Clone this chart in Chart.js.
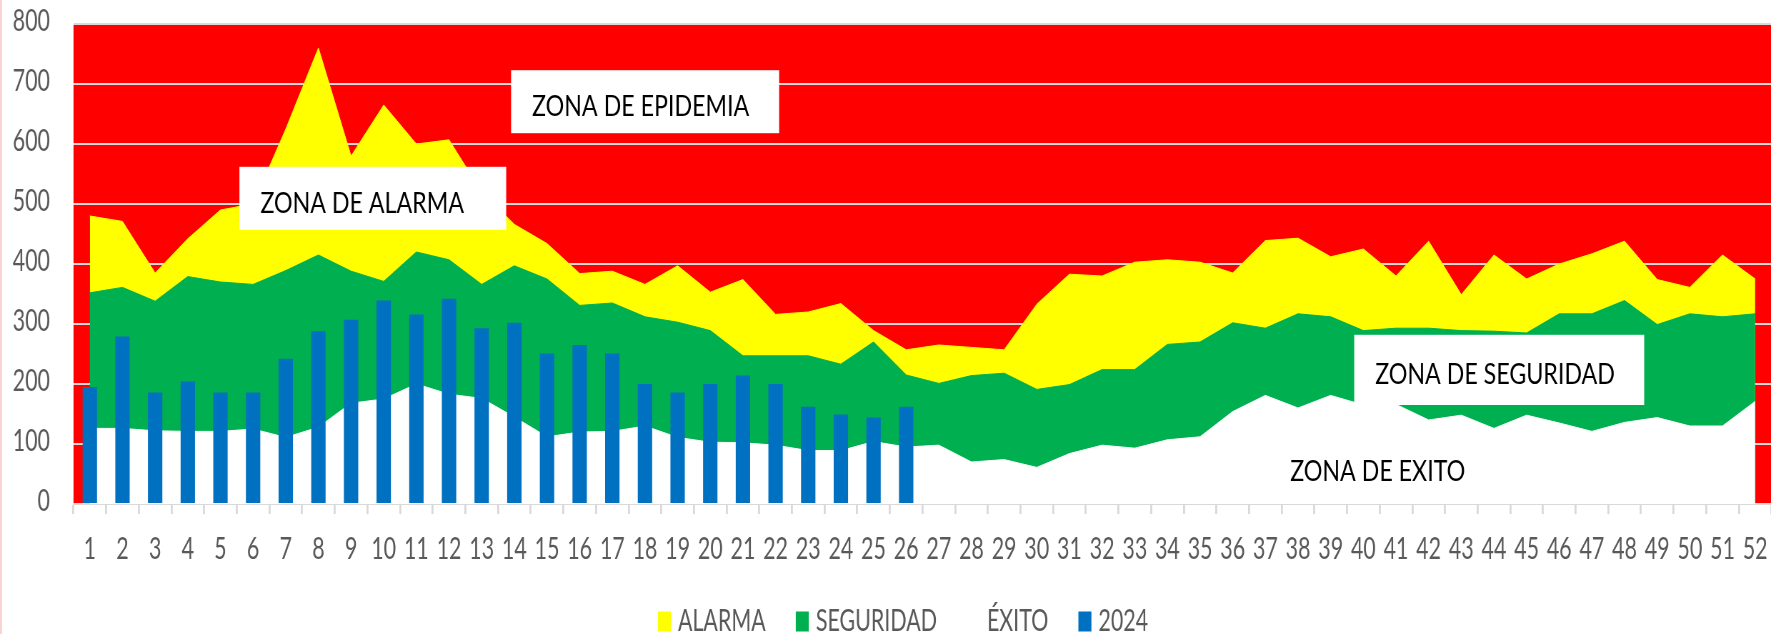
<!DOCTYPE html>
<html>
<head>
<meta charset="utf-8">
<title>Canal endémico</title>
<script src="https://cdn.jsdelivr.net/npm/chart.js@4.4.1/dist/chart.umd.min.js"></script>
<style>
  html, body { margin: 0; padding: 0; background: #fff; overflow: hidden; }
  #wrap { position: relative; width: 1806px; height: 634px; }
  #wrap:before { content: ''; position: absolute; left: 0; top: 0; bottom: 0; width: 2px; background: #fbd3d3; z-index: 2; }
</style>
</head>
<body>
<!-- the canvas is wider than it is shown, so the text comes out narrow like the original -->
<div id="wrap"><canvas id="myChart" width="2528" height="634" style="width:1806px;height:634px"></canvas></div>
<script>
// semanas epidemiologicas
let semanas = ['1','2','3','4','5','6','7','8','9','10','11','12','13','14','15','16','17','18','19','20',
  '21','22','23','24','25','26','27','28','29','30','31','32','33','34','35','36','37','38','39','40',
  '41','42','43','44','45','46','47','48','49','50','51','52'];

// limite superior de cada zona
let alarma = [480,471,385,442,490,500,625,760,580,665,600,607,520,466,434,384,388,366,397,353,
  374,316,320,334,289,257,265,261,257,333,383,380,403,407,403,385,439,443,412,425,
  380,438,349,415,375,400,417,438,374,361,415,375];
let seguridad = [352,361,338,379,370,366,389,415,388,371,420,407,366,397,375,331,335,312,303,289,
  247,247,247,233,270,215,201,214,218,191,199,224,224,266,270,302,293,317,312,289,
  293,293,289,288,285,317,317,339,299,317,312,317];
let exito = [126,126,122,121,121,125,111,128,168,175,200,183,176,145,112,120,121,130,111,103,
  102,98,89,89,104,95,98,70,74,61,84,98,93,107,112,154,181,160,181,165,
  166,140,148,126,148,135,121,136,144,130,130,171];

// casos 2024
let casos2024 = [195,279,186,204,186,186,242,288,307,339,316,342,293,302,251,265,251,200,186,200,
  214,200,162,149,144,162];

let textosZona = ['ZONA DE EPIDEMIA','ZONA DE ALARMA','ZONA DE SEGURIDAD','ZONA DE EXITO'];

const fuente = "Lato, 'Liberation Sans', sans-serif";
const k = 2528 / 1806; // canvas px per screen px, horizontally

// cajas de texto, en unidades de los ejes (indice de semana, casos)
const cajas = [
  {x0: 12.90, x1: 21.11, y0: 618, y1: 723},
  {x0: 4.58, x1: 12.75, y0: 457, y1: 562},
  {x0: 38.72, x1: 47.60, y0: 165, y1: 282},
  {x0: 36.76, y: 54}
];

const fondoRojo = {
  id: 'fondoRojo',
  beforeDraw(chart) {
    const a = chart.chartArea, ctx = chart.ctx;
    ctx.save();
    ctx.fillStyle = '#ff0000';
    ctx.fillRect(a.left, a.top, a.right - a.left, a.bottom - a.top);
    ctx.restore();
  }
};

function texto(ctx, s, x, y) {
  // the zone captions are a bit wider than the axis text
  ctx.save();
  ctx.translate(x, y);
  ctx.scale(1.12, 1);
  ctx.fillText(s, 0, 0);
  ctx.restore();
}

const rotulos = {
  id: 'rotulos',
  afterDatasetsDraw(chart) {
    const ctx = chart.ctx, sx = chart.scales.x, sy = chart.scales.y;
    ctx.save();
    ctx.font = '29px ' + fuente;
    ctx.textBaseline = 'middle';
    ctx.textAlign = 'left';
    cajas.forEach((c, i) => {
      const left = sx.getPixelForValue(c.x0);
      if (c.x1 !== undefined) {
        const right = sx.getPixelForValue(c.x1);
        const top = sy.getPixelForValue(c.y1), bottom = sy.getPixelForValue(c.y0);
        ctx.fillStyle = '#ffffff';
        ctx.fillRect(left, top, right - left, bottom - top);
        ctx.fillStyle = '#000000';
        texto(ctx, textosZona[i], left + 21 * k, (top + bottom) / 2 + 5);
      } else {
        ctx.fillStyle = '#000000';
        texto(ctx, textosZona[i], left, sy.getPixelForValue(c.y));
      }
    });
    ctx.restore();
  }
};

// week numbers under the axis, one per category of the x scale
const etiquetasX = {
  id: 'etiquetasX',
  afterDraw(chart) {
    const ctx = chart.ctx, sx = chart.scales.x;
    ctx.save();
    ctx.font = '30px ' + fuente;
    ctx.fillStyle = '#595959';
    ctx.textAlign = 'center';
    ctx.textBaseline = 'middle';
    semanas.forEach((s, i) => ctx.fillText(s, sx.getPixelForTick(i), chart.chartArea.bottom + 45));
    ctx.restore();
  }
};

const leyenda = {
  id: 'leyenda',
  afterDraw(chart) {
    const ctx = chart.ctx;
    ctx.save();
    ctx.font = '30px ' + fuente;
    ctx.textBaseline = 'middle';
    ctx.textAlign = 'left';
    const items = chart.data.datasets.map(d => ({text: d.label, color: d.backgroundColor, w: ctx.measureText(d.label).width}));
    const box = 13 * k, gapText = 7 * k, gapItem = 30 * k;
    let total = 0;
    items.forEach((it, i) => { total += box + gapText + it.w + (i ? gapItem : 0); });
    let x = (chart.width - total) / 2;
    const yMid = chart.chartArea.bottom + 117.5;
    items.forEach(it => {
      ctx.fillStyle = it.color;
      ctx.fillRect(x, yMid - 10, box, 20);
      x += box + gapText;
      ctx.fillStyle = '#595959';
      ctx.fillText(it.text, x, yMid);
      x += it.w + gapItem;
    });
    ctx.restore();
  }
};

function area(label, data, color, order) {
  return {
    type: 'line', label: label, data: data, order: order,
    backgroundColor: color, borderColor: color, borderWidth: 1,
    pointRadius: 0, tension: 0, fill: 'origin'
  };
}

Chart.defaults.font.family = fuente;
Chart.defaults.color = '#595959';

let ctx = document.getElementById('myChart').getContext('2d');
new Chart(ctx, {
  type: 'bar',
  data: {
    labels: semanas,
    datasets: [
      area('ALARMA', alarma, '#ffff00', 4),
      area('SEGURIDAD', seguridad, '#00b050', 3),
      area('ÉXITO', exito, '#ffffff', 2),
      {
        type: 'bar', label: '2024', data: casos2024, order: 1,
        backgroundColor: '#0070c0', borderWidth: 0,
        categoryPercentage: 1, barPercentage: 0.44
      }
    ]
  },
  options: {
    responsive: false,
    animation: false,
    devicePixelRatio: 1,
    layout: { padding: { top: 24, left: 0, right: 34.5 * k, bottom: 120 } },
    scales: {
      x: {
        offset: true,
        grid: { display: true, drawOnChartArea: false, offset: true, tickLength: 10, color: '#d9d9d9', lineWidth: 2 * k },
        border: { color: '#d9d9d9', width: 2 },
        ticks: { display: false }
      },
      y: {
        min: 0, max: 800,
        grid: { color: '#d9d9d9', lineWidth: 2, drawTicks: false },
        border: { display: false },
        ticks: { stepSize: 100, font: { size: 30 }, padding: 23.5 * k, labelOffset: -3 },
        afterFit(scale) {
          scale.width = 73.5 * k;
          scale.paddingTop = 0;
          scale.paddingBottom = 0;
        }
      }
    },
    plugins: {
      tooltip: { enabled: false },
      legend: { display: false }
    }
  },
  plugins: [fondoRojo, rotulos, etiquetasX, leyenda]
});
</script>
</body>
</html>
